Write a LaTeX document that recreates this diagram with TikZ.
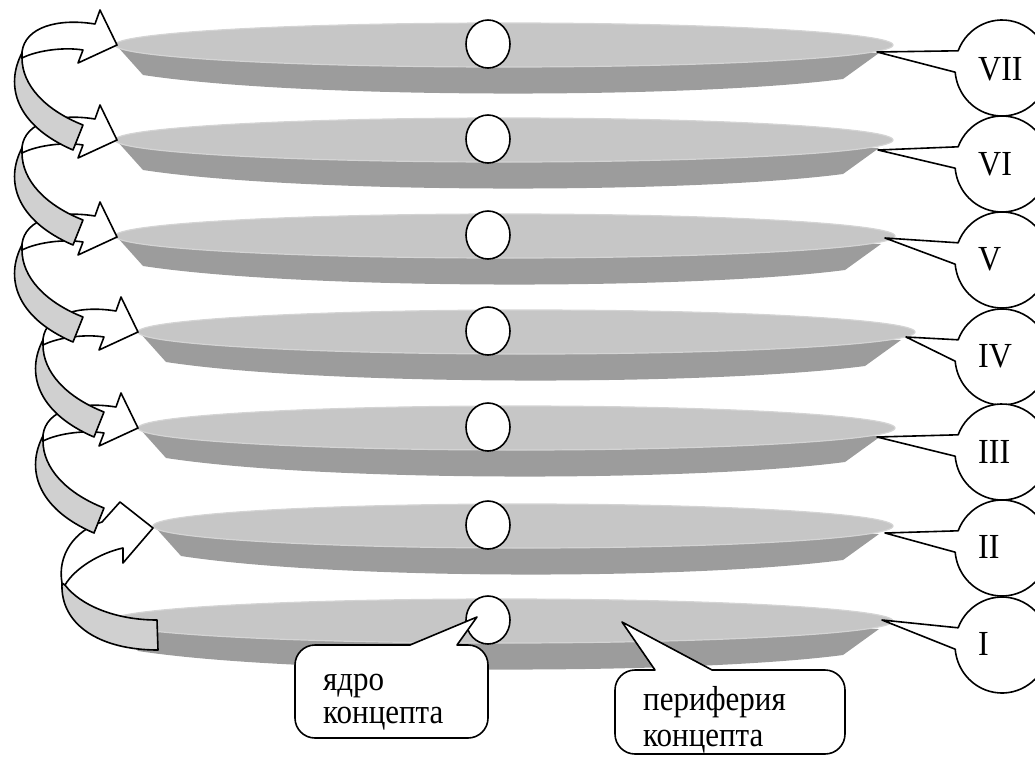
\documentclass[tikz,border=0pt]{standalone}
\usepackage{fontspec}
\setmainfont{Liberation Serif}
\usepackage{graphicx}
\usetikzlibrary{shapes.geometric}
\definecolor{platelight}{RGB}{198,198,198}
\definecolor{platerim}{RGB}{212,212,212}
\definecolor{platedark}{RGB}{156,156,156}
\definecolor{ribbongray}{RGB}{208,208,208}
\newcommand\vsr[1]{\scalebox{1}[1.1]{#1}}
\newcommand\vsc[1]{\scalebox{1}[1.12]{#1}}
\newcommand\plate[3]{%
  \fill[platedark] (#1+2,#3) -- (#1+28,#3+29) .. controls (#1+185,#3+53) and (#2-203,#3+53) .. (#2-50,#3+33) -- (#2-14,#3+7) -- cycle;
  \path[fill=platelight, draw=platerim, line width=1.2pt] ({(#1+#2)/2},#3-1) ellipse [x radius={(#2-#1)/2*1pt}, y radius=22pt];
}
\newcommand\romancall[6]{%
  \draw[callout] (#2,#3) -- ([shift={(159:47pt and 48pt)}]1002,#4) arc[start angle=159, end angle=-175, x radius=47pt, y radius=48pt] -- cycle;
  \node[romantext] (#1) at (978,#6) {\vsr{#5}};
}
\newcommand\twistarrow{%
  \draw[ribbonback] (22,53) .. controls (5,85) and (15,125) .. (73,150) -- (83,125) .. controls (45,110) and (22,85) .. (22,58) -- cycle;
  \draw[ribbonfront] (22,52) .. controls (25,27) and (58,18) .. (95,24) -- (100,10) -- (117,45) -- (78,63) -- (83,50) .. controls (65,47) and (38,50) .. (22,58) -- cycle;
}
\tikzset{
  outline/.style={draw=black, line width=1.6pt, line join=round},
  callout/.style={outline, fill=white},
  core/.style={ellipse, outline, fill=white, minimum width=44pt, minimum height=48pt, inner sep=0pt},
  romantext/.style={anchor=base west, inner sep=0pt, font=\fontsize{32}{36}\selectfont},
  calltext/.style={anchor=base west, inner sep=0pt, font=\fontsize{31}{29.5}\selectfont},
  ribbonback/.style={outline, fill=ribbongray},
  ribbonfront/.style={outline, fill=white},
}
\begin{document}
\begin{tikzpicture}[x=1pt, y=-1pt]
\useasboundingbox (0,0) rectangle (1035,758);
\clip (0,0) rectangle (1035,758);
% plates
\plate{115}{893}{46}
\plate{115}{893}{141}
\plate{115}{895}{237}
\plate{138}{915}{333}
\plate{138}{895}{429}
\plate{153}{893}{527}
\plate{110}{893}{622}
% cores
\node[core] (k7) at (488,44) {};
\node[core] (k6) at (488,139) {};
\node[core] (k5) at (488,235) {};
\node[core] (k4) at (488,331) {};
\node[core] (k3) at (488,427) {};
\node[core] (k2) at (488,525) {};
\node[core] (k1) at (488,620) {};
% bottom callouts
\draw[callout] (410,645) -- (477,617) -- (457,645) -- (468,645) arc[start angle=90, end angle=0, radius=20pt] -- (488,718) arc[start angle=0, end angle=-90, radius=20pt] -- (315,738) arc[start angle=-90, end angle=-180, radius=20pt] -- (295,665) arc[start angle=180, end angle=90, radius=20pt] -- cycle;
\node[calltext] (yadro) at (323,690) {\vsc{\begin{tabular}[t]{@{}l@{}}ядро\\концепта\end{tabular}}};
\draw[callout] (655,670) -- (622,622) -- (712,670) -- (825,670) arc[start angle=90, end angle=0, radius=20pt] -- (845,734) arc[start angle=0, end angle=-90, radius=20pt] -- (635,754) arc[start angle=-90, end angle=-180, radius=20pt] -- (615,690) arc[start angle=180, end angle=90, radius=20pt] -- cycle;
\node[calltext, font=\fontsize{31}{33}\selectfont] (periferia) at (643,710) {\vsc{\begin{tabular}[t]{@{}l@{}}периферия\\концепта\end{tabular}}};
% roman callouts
\romancall{r7}{877}{52}{68}{VII}{80}
\romancall{r6}{878}{150}{164}{VI}{175}
\romancall{r5}{885}{238}{260}{V}{270}
\romancall{r4}{906}{337}{357}{IV}{367}
\romancall{r3}{877}{437}{452}{III}{463}
\romancall{r2}{885}{533}{548}{II}{558}
\romancall{r1}{882}{620}{645}{I}{655}
% arrows
\draw[ribbonback] (62,583) .. controls (60,625) and (100,650) .. (158,650) -- (157,620) .. controls (115,620) and (80,605) .. (65,585) -- cycle;
\draw[ribbonfront] (62,583) .. controls (57,555) and (75,530) .. (102,522) -- (120,502) -- (153,528) -- (123,563) -- (123,548) .. controls (100,553) and (75,568) .. (65,585) -- cycle;
\begin{scope}[shift={(21,383)}]\twistarrow\end{scope}
\begin{scope}[shift={(21,287)}]\twistarrow\end{scope}
\begin{scope}[shift={(0,192)}]\twistarrow\end{scope}
\begin{scope}[shift={(0,95)}]\twistarrow\end{scope}
\twistarrow
\end{tikzpicture}
\end{document}
